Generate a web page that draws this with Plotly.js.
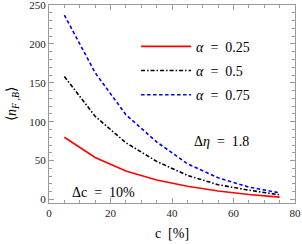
<!DOCTYPE html>
<html>
<head>
<meta charset="utf-8">
<script src="https://cdn.plot.ly/plotly-3.0.1.min.js"></script>
<style>html,body{margin:0;padding:0;background:#fff;}#chart{width:302px;height:244px;}</style>
</head>
<body>
<div id="chart"></div>
<script>
// concentration window centres c [%]
const cValues = [5, 15, 25, 35, 45, 55, 65, 75];
// <n_F,B> for each alpha
const nAlpha025 = [80, 54, 36.5, 25, 17, 11, 6.5, 3];
const nAlpha05  = [158, 107, 73, 49, 31, 19, 12, 6];
const nAlpha075 = [237, 163, 109, 74, 46, 28, 16, 8.5];
const seriesNames = ['\u03B1 = 0.25', '\u03B1 = 0.5', '\u03B1 = 0.75'];
const xTickVals = [0, 20, 40, 60, 80];
const yTickVals = [0, 50, 100, 150, 200, 250];

const serif = 'Liberation Serif';
const frameCol = '#9a9a9a';

function legendName(s) {
  const parts = s.split(' = ');
  return '<i>' + parts[0] + '</i>\u2002=\u2002' + parts[1];
}

const traces = [
  {x: cValues, y: nAlpha025, name: legendName(seriesNames[0]), mode: 'lines',
   line: {color: '#ff0000', width: 1.6}, legendgroup: 'a'},
  {x: cValues, y: nAlpha05, name: legendName(seriesNames[1]), mode: 'lines',
   line: {color: '#000000', width: 1.6, dash: '4px,2px,1.5px,2px'}, legendgroup: 'b'},
  {x: cValues, y: nAlpha075, name: legendName(seriesNames[2]), mode: 'lines',
   line: {color: '#0000ff', width: 1.6, dash: '3.5px,2.5px'}, legendgroup: 'c'}
];

const axisCommon = {
  showgrid: false, zeroline: false, showline: true, linecolor: frameCol, linewidth: 1,
  mirror: 'ticks', ticks: 'inside', ticklen: 5, tickcolor: frameCol, tickwidth: 1,
  ticklabeloverflow: 'allow',
  tickfont: {family: serif, size: 11, color: '#222'}
};

const layout = {
  width: 302, height: 244,
  margin: {l: 49, r: 7, t: 5, b: 41},
  paper_bgcolor: '#fff', plot_bgcolor: '#fff',
  font: {family: serif, color: '#000'},
  showlegend: true,
  legend: {x: 0.354, y: 0.87, xanchor: 'left', yanchor: 'top', bgcolor: 'rgba(0,0,0,0)',
           font: {family: serif, size: 14, color: '#000'}, traceorder: 'grouped',
           tracegroupgap: 3, itemwidth: 50},
  xaxis: Object.assign({}, axisCommon, {
    range: [0, 80], tickvals: xTickVals,
    minor: {dtick: 5, ticks: 'inside', ticklen: 3, tickcolor: frameCol, tickwidth: 1, showgrid: false},
    title: {text: 'c\u2002[%]', font: {family: serif, size: 14, color: '#000'}, standoff: 9}
  }),
  yaxis: Object.assign({}, axisCommon, {
    range: [-4.5, 250], tickvals: yTickVals,
    minor: {dtick: 10, ticks: 'inside', ticklen: 3, tickcolor: frameCol, tickwidth: 1, showgrid: false},
    title: {text: '\u27E8<i>n</i><sub><i>F</i> ,<i>B</i></sub>\u27E9', font: {family: serif, size: 14, color: '#000'}, standoff: 9}
  }),
  annotations: [
    {xref: 'paper', yref: 'paper', x: 0.58, y: 0.31, xanchor: 'left', yanchor: 'middle', showarrow: false,
     text: '\u0394<i>\u03B7</i>\u2002=\u20021.8', font: {family: serif, size: 14, color: '#000'}},
    {xref: 'paper', yref: 'paper', x: 0.087, y: 0.055, xanchor: 'left', yanchor: 'middle', showarrow: false,
     text: '\u0394c\u2002=\u200210%', font: {family: serif, size: 14, color: '#000'}}
  ]
};

Plotly.newPlot('chart', traces, layout, {displayModeBar: false, staticPlot: true});
</script>
</body>
</html>
